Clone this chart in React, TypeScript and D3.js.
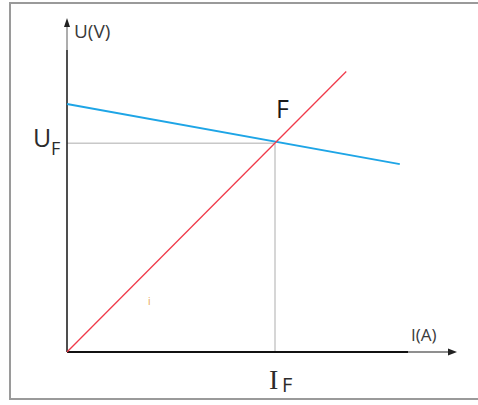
import React from 'react';
import * as d3 from 'd3';

// operating point
const IF = 4;
const UF = 5;

// load line (red) and source characteristic (blue)
const redI = [0, 5.37];
const redU = [0, 6.72];
const blueI = [0, 6.4];
const blueU = [5.94, 4.5];

// axis extents
const iMax = 7.5;
const uMax = 8;

const W = 478;
const H = 405;

const App = () => {
  const x = d3.scaleLinear().domain([0, iMax]).range([67, 457]);
  const y = d3.scaleLinear().domain([0, uMax]).range([352, 18]);

  const line = d3.line<[number, number]>()
    .x(d => x(d[0]))
    .y(d => y(d[1]));

  const red = redI.map((v, i) => [v, redU[i]] as [number, number]);
  const blue = blueI.map((v, i) => [v, blueU[i]] as [number, number]);

  const x0 = x(0);
  const y0 = y(0);
  const font = "'Open Sans', 'Noto Sans', sans-serif";

  return (
    <svg width={W} height={H} style={{ position: 'absolute', left: 0, top: 0, background: 'white' }}>
      {/* frame */}
      <path d={`M${W},3 H10 V399 H${W}`} fill="none" stroke="#9a9a9a" strokeWidth={2} />

      {/* guide lines to F */}
      <line x1={x0} x2={x(IF)} y1={y(UF)} y2={y(UF)} stroke="#c8c8c8" strokeWidth={1.5} />
      <line x1={x(IF)} x2={x(IF)} y1={y(UF)} y2={y0} stroke="#c8c8c8" strokeWidth={1.5} />

      {/* axes */}
      <line x1={x0} x2={x0} y1={y0} y2={50} stroke="#222" strokeWidth={1.6} />
      <line x1={x0} x2={x0} y1={50} y2={24} stroke="#8a8a8a" strokeWidth={1.4} />
      <path d={`M${x0},${y(uMax)} l-3,9 h6 z`} fill="#222" />
      <line x1={x0} x2={408} y1={y0} y2={y0} stroke="#111" strokeWidth={2} />
      <line x1={408} x2={450} y1={y0} y2={y0} stroke="#6a6a6a" strokeWidth={1.4} />
      <path d={`M${x(iMax)},${y0} l-9,-3.5 v7 z`} fill="#222" />

      {/* curves */}
      <path d={line(blue) ?? ''} fill="none" stroke="#1ea5e6" strokeWidth={2} />
      <path d={line(red) ?? ''} fill="none" stroke="#f03a4a" strokeWidth={1.3} />

      {/* labels */}
      <text x={x0 + 7} y={38} fontFamily={font} fontSize={19} fill="#3a3a3a">U(V)</text>
      <text x={x0 + 344} y={341} fontFamily={font} fontSize={17} fill="#3a3a3a">I(A)</text>

      <text x={33} y={147} fontFamily={font} fontSize={25} fill="#2b2b2b">U</text>
      <text x={51} y={155} fontFamily={font} fontSize={18} fill="#2b2b2b">F</text>

      <text x={x(IF) + 1} y={118} fontFamily={font} fontSize={25} fill="#1a1a1a">F</text>

      <text x={x(IF) - 6} y={389} fontFamily="'Liberation Serif', serif" fontSize={28} fill="#2b2b2b">I</text>
      <text x={x(IF) + 7} y={392} fontFamily={font} fontSize={20} fill="#2b2b2b">F</text>

      <text x={148} y={305} fontFamily={font} fontSize={10} fill="#e8a040">i</text>
    </svg>
  );
};

export default App;
